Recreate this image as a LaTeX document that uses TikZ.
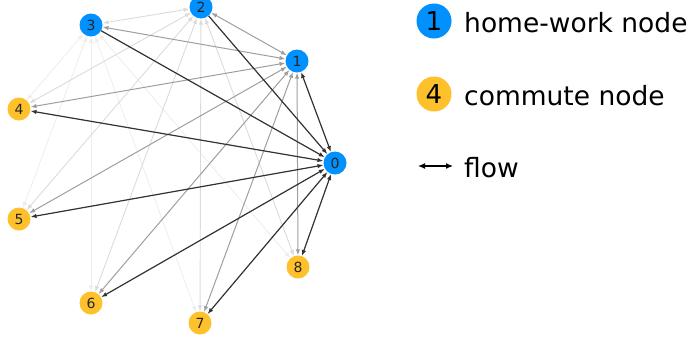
\documentclass[tikz,border=0pt]{standalone}
\usepackage{fontspec}
\setmainfont{DejaVu Sans}
\usetikzlibrary{arrows.meta}
\definecolor{hwblue}{RGB}{0,145,255}
\definecolor{cmyellow}{RGB}{255,193,43}
\tikzset{
  gnode/.style={circle,inner sep=0pt,minimum size=23pt,font=\fontsize{14}{14}\selectfont,text=black!85},
  hwnode/.style={gnode,fill=hwblue},
  commnode/.style={gnode,fill=cmyellow},
  onetip/.style={arrows={-Latex[length=6pt,width=4.5pt]}},
  twotip/.style={arrows={Latex[length=6pt,width=4.5pt]-Latex[length=6pt,width=4.5pt]}},
  darkedge/.style={twotip,draw=black!80,fill=black!80,line width=1.2pt},
  darkoneway/.style={onetip,draw=black!80,fill=black!80,line width=1.2pt},
  midedge/.style={twotip,draw=black!38,line width=1pt},
  lightedge/.style={twotip,draw=black!14,line width=0.9pt},
  faintedge/.style={twotip,draw=black!7,line width=0.8pt},
  legtext/.style={anchor=base west,font=\fontsize{26.5}{30}\selectfont,inner sep=0pt},
  legcirc/.style={circle,inner sep=0pt,minimum size=35pt,font=\fontsize{26}{26}\selectfont,text=black}
}
\begin{document}
\begin{tikzpicture}[x=1pt,y=-1pt]
\useasboundingbox (0,0) rectangle (692,341);
\node[hwnode] (n0) at (335,163) {0};
\node[hwnode] (n1) at (297,61) {1};
\node[hwnode] (n2) at (201,7) {2};
\node[hwnode] (n3) at (91,25) {3};
\node[commnode] (n4) at (19,109) {4};
\node[commnode] (n5) at (19,219) {5};
\node[commnode] (n6) at (91,303) {6};
\node[commnode] (n7) at (200,323) {7};
\node[commnode] (n8) at (298,267) {8};
% faint edges from 3
\foreach \t in {4,5,6,7,8} \draw[faintedge] (n3) -- (n\t);
% light edges from 2
\foreach \t in {3,4,5,6,7,8} \draw[lightedge] (n2) -- (n\t);
% medium edges from 1
\foreach \t in {2,3,4,5,6,7,8} \draw[midedge] (n1) -- (n\t);
% dark edges to 0
\draw[darkoneway] (n2) -- (n0);
\draw[darkoneway] (n3) -- (n0);
\foreach \t in {1,4,5,6,7,8} \draw[darkedge] (n0) -- (n\t);
% legend
\node[legcirc,fill=hwblue] (l1) at (434,21) {1};
\node[legtext] (t1) at (464,32) {home-work node};
\node[legcirc,fill=cmyellow] (l2) at (434,94) {4};
\node[legtext] (t2) at (464,105) {commute node};
\coordinate (fa) at (418,166);
\coordinate (fb) at (453,166);
\draw[arrows={Latex[length=7pt,width=6pt]-Latex[length=7pt,width=6pt]},line width=1.2pt] (fa) -- (fb);
\node[legtext] (t3) at (464,177) {flow};
\end{tikzpicture}
\end{document}
